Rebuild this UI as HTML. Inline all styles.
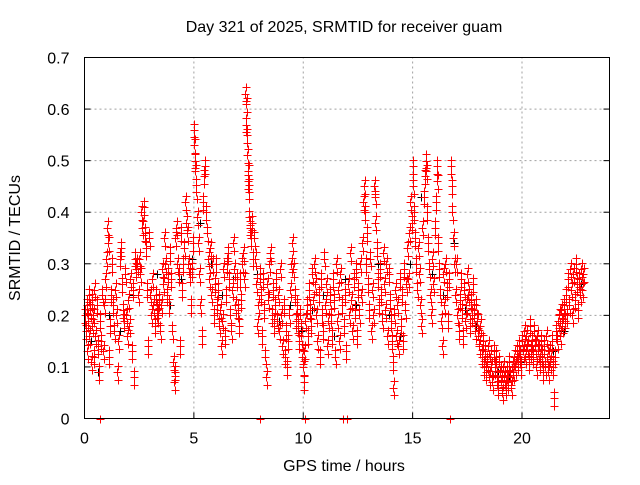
<!DOCTYPE html>
<html><head><meta charset="utf-8"><style>
body{margin:0;background:#fff;}
svg text{font-family:"Liberation Sans",sans-serif;font-size:16px;fill:#000;}
</style></head><body>
<svg id="chart" width="640" height="480" viewBox="0 0 640 480" xmlns="http://www.w3.org/2000/svg">
<rect width="640" height="480" fill="#fff"/>
<text x="344" y="32" text-anchor="middle">Day 321 of 2025, SRMTID for receiver guam</text>
<g id="grid"></g>
<g id="ticks"></g>
<g id="black"></g>
<g id="red"></g>
<rect x="84.5" y="57.5" width="525" height="361" fill="none" stroke="#000" stroke-width="1"/>
<text transform="translate(20,238) rotate(-90)" text-anchor="middle">SRMTID / TECUs</text>
<text x="344" y="471" text-anchor="middle">GPS time / hours</text>
</svg>
<script>
const xTicks=[0,5,10,15,20];
const yTicks=[0,0.1,0.2,0.3,0.4,0.5,0.6,0.7];
const yTickLabels=["0","0.1","0.2","0.3","0.4","0.5","0.6","0.7"];
const redA=[[0.02,0.2],[0.05,0.17],[0.1,0.22],[0.12,0.13],[0.15,0.19],[0.2,0.24],[0.22,0.16],[0.25,0.21],[0.3,0.11],[0.32,0.23],[0.35,0.18],[0.4,0.2],[0.42,0.12],[0.45,0.25],[0.5,0.16],[0.55,0.22],[0.6,0.14],[0.65,0.09],[0.7,0.19],[0.75,0.15],[0.8,0.24],[0.85,0.13],[0.9,0.22],[0.95,0.27],[1.0,0.31],[1.05,0.37],[1.08,0.34],[1.1,0.12],[1.15,0.18],[1.2,0.24],[1.25,0.3],[1.3,0.22],[1.35,0.17],[1.4,0.25],[1.45,0.2],[1.5,0.09],[1.55,0.15],[1.6,0.31],[1.65,0.33],[1.7,0.26],[1.75,0.21],[1.8,0.19],[1.85,0.28],[1.9,0.2],[1.95,0.16],[2.0,0.23],[2.05,0.18],[2.1,0.27],[2.15,0.13],[2.2,0.25],[2.25,0.08],[2.3,0.31],[2.35,0.29],[2.4,0.3],[2.45,0.24],[2.5,0.31],[2.55,0.28],[2.6,0.4],[2.65,0.37],[2.7,0.41],[2.75,0.36],[2.8,0.33],[2.85,0.25],[2.9,0.14],[2.95,0.35],[3.0,0.24],[3.05,0.2],[3.1,0.27],[3.15,0.22],[3.2,0.18],[3.25,0.24],[3.3,0.21],[3.35,0.2],[3.4,0.23],[3.45,0.17],[3.5,0.22],[3.55,0.29],[3.6,0.26],[3.65,0.35],[3.7,0.3],[3.75,0.24],[3.8,0.28],[3.85,0.22],[3.9,0.32],[3.95,0.27],[4.0,0.17],[4.05,0.11],[4.1,0.07],[4.12,0.09],[4.15,0.35],[4.2,0.37],[4.25,0.3],[4.3,0.28],[4.35,0.14],[4.4,0.36],[4.45,0.25],[4.5,0.3],[4.55,0.33],[4.6,0.42],[4.65,0.38],[4.7,0.36],[4.75,0.3],[4.8,0.28],[4.85,0.22],[4.9,0.29],[4.95,0.34],[5.0,0.56],[5.02,0.53],[5.04,0.5],[5.06,0.48],[5.1,0.44],[5.15,0.39],[5.2,0.34],[5.25,0.28],[5.3,0.22],[5.35,0.16],[5.4,0.42],[5.45,0.47],[5.5,0.49],[5.55,0.4],[5.6,0.36],[5.65,0.31],[5.7,0.27],[5.75,0.33],[5.8,0.24],[5.85,0.3],[5.9,0.2],[5.95,0.26],[6.0,0.3],[6.05,0.22],[6.1,0.25],[6.15,0.18],[6.2,0.21],[6.25,0.14],[6.3,0.19],[6.35,0.29],[6.4,0.16],[6.45,0.24],[6.5,0.3],[6.55,0.32],[6.6,0.27],[6.65,0.2],[6.7,0.17],[6.75,0.25],[6.8,0.34],[6.85,0.29],[6.9,0.22],[6.95,0.27],[7.0,0.21],[7.05,0.18],[7.1,0.27],[7.15,0.23],[7.2,0.3],[7.25,0.32],[7.3,0.27],[7.35,0.63],[7.38,0.57],[7.4,0.61],[7.42,0.55],[7.44,0.51],[7.46,0.46],[7.48,0.48],[7.5,0.44],[7.52,0.39],[7.55,0.37],[7.6,0.35],[7.65,0.38],[7.7,0.31],[7.75,0.35],[7.8,0.31],[7.85,0.26],[7.9,0.18],[7.95,0.22],[8.0,0.28],[8.05,0.24],[8.1,0.16],[8.15,0.27],[8.2,0.21],[8.25,0.12],[8.3,0.08],[8.35,0.26],[8.4,0.23],[8.45,0.3],[8.5,0.32],[8.55,0.2],[8.6,0.25],[8.65,0.18],[8.7,0.22],[8.75,0.27],[8.8,0.19],[8.85,0.24],[8.9,0.17],[8.95,0.29],[9.0,0.2],[9.05,0.14],[9.1,0.22],[9.15,0.12],[9.2,0.17],[9.25,0.1],[9.3,0.15],[9.35,0.2],[9.4,0.25],[9.45,0.3],[9.5,0.34],[9.55,0.29],[9.6,0.24],[9.65,0.19],[9.7,0.22],[9.75,0.18],[9.8,0.15],[9.85,0.2],[9.9,0.16],[9.95,0.12],[10.0,0.1],[10.03,0.07],[10.05,0.13],[10.1,0.19],[10.15,0.22],[10.2,0.16],[10.25,0.25],[10.3,0.21],[10.35,0.18],[10.4,0.28],[10.45,0.23],[10.5,0.3],[10.55,0.26],[10.6,0.2],[10.65,0.15],[10.7,0.24],[10.75,0.12],[10.8,0.27],[10.85,0.2],[10.9,0.17],[10.95,0.31],[11.0,0.22],[11.05,0.26],[11.1,0.14],[11.15,0.19],[11.2,0.24],[11.25,0.2],[11.3,0.16],[11.35,0.27],[11.4,0.23],[11.45,0.12],[11.5,0.3],[11.55,0.19],[11.6,0.25],[11.65,0.15],[11.7,0.28],[11.75,0.22],[11.85,0.18],[11.9,0.24],[11.95,0.13],[12.05,0.26],[12.1,0.2],[12.15,0.32],[12.2,0.23],[12.25,0.17],[12.3,0.27],[12.35,0.21],[12.4,0.29],[12.45,0.16],[12.5,0.25],[12.55,0.2],[12.6,0.3],[12.65,0.24],[12.7,0.34],[12.75,0.42],[12.78,0.45],[12.8,0.4],[12.85,0.3],[12.9,0.36],[12.95,0.26],[13.0,0.21],[13.05,0.31],[13.1,0.17],[13.15,0.25],[13.2,0.2],[13.25,0.45],[13.28,0.43],[13.3,0.38],[13.35,0.33],[13.4,0.27],[13.45,0.22],[13.5,0.29],[13.55,0.24],[13.6,0.19],[13.65,0.32],[13.7,0.26],[13.75,0.21],[13.8,0.3],[13.85,0.16],[13.9,0.28],[13.95,0.23],[14.0,0.19],[14.05,0.15],[14.1,0.11],[14.12,0.06],[14.15,0.2],[14.2,0.25],[14.25,0.16],[14.3,0.22],[14.35,0.14],[14.4,0.27],[14.45,0.18],[14.5,0.24],[14.55,0.15],[14.6,0.29],[14.65,0.21],[14.7,0.26],[14.75,0.33],[14.8,0.27],[14.85,0.36],[14.9,0.42],[14.95,0.38],[15.0,0.49],[15.02,0.45],[15.05,0.4],[15.1,0.35],[15.15,0.3],[15.2,0.25],[15.25,0.33],[15.3,0.28],[15.35,0.22],[15.4,0.18],[15.45,0.37],[15.5,0.43],[15.55,0.47],[15.6,0.5],[15.62,0.48],[15.65,0.4],[15.7,0.34],[15.75,0.29],[15.8,0.24],[15.85,0.2],[15.9,0.31],[15.95,0.26],[16.0,0.37],[16.05,0.42],[16.1,0.49],[16.12,0.46],[16.15,0.34],[16.2,0.29],[16.25,0.24],[16.3,0.19],[16.35,0.14],[16.4,0.28],[16.45,0.22],[16.5,0.3],[16.55,0.25],[16.6,0.19],[16.65,0.27],[16.75,0.49],[16.78,0.45],[16.8,0.4],[16.85,0.35],[16.9,0.3],[16.95,0.24],[17.0,0.3],[17.05,0.2],[17.1,0.17],[17.15,0.23],[17.2,0.27],[17.25,0.21],[17.3,0.16],[17.35,0.25],[17.4,0.19],[17.45,0.22],[17.5,0.28],[17.55,0.24],[17.6,0.18],[17.65,0.23],[17.7,0.2],[17.75,0.26],[17.8,0.21],[17.85,0.17],[17.9,0.22],[17.95,0.19],[18.0,0.16],[18.05,0.14],[18.1,0.18],[18.15,0.12],[18.2,0.15],[18.25,0.1],[18.3,0.13],[18.35,0.09],[18.4,0.11],[18.45,0.14],[18.5,0.08],[18.55,0.12],[18.6,0.1],[18.65,0.07],[18.7,0.13],[18.75,0.1],[18.8,0.12],[18.85,0.08],[18.9,0.06],[18.95,0.11],[19.0,0.09],[19.05,0.07],[19.1,0.05],[19.15,0.1],[19.2,0.08],[19.25,0.06],[19.3,0.09],[19.35,0.07],[19.4,0.11],[19.45,0.08],[19.5,0.06],[19.55,0.1],[19.6,0.09],[19.65,0.12],[19.7,0.1],[19.75,0.13],[19.8,0.11],[19.85,0.14],[19.9,0.12],[19.95,0.1],[20.0,0.15],[20.05,0.13],[20.1,0.17],[20.15,0.12],[20.2,0.16],[20.25,0.14],[20.3,0.11],[20.35,0.18],[20.4,0.13],[20.45,0.15],[20.5,0.12],[20.55,0.17],[20.6,0.14],[20.65,0.1],[20.7,0.16],[20.75,0.13],[20.8,0.11],[20.85,0.15],[20.9,0.12],[20.95,0.09],[21.0,0.14],[21.05,0.1],[21.1,0.16],[21.15,0.12],[21.2,0.09],[21.25,0.13],[21.3,0.11],[21.35,0.15],[21.4,0.1],[21.45,0.04],[21.5,0.12],[21.55,0.17],[21.6,0.15],[21.65,0.19],[21.7,0.2],[21.75,0.16],[21.8,0.21],[21.85,0.18],[21.9,0.22],[21.95,0.19],[22.0,0.24],[22.05,0.2],[22.1,0.27],[22.15,0.22],[22.2,0.29],[22.25,0.25],[22.3,0.2],[22.35,0.28],[22.4,0.23],[22.45,0.3],[22.5,0.26],[22.55,0.21],[22.6,0.27],[22.65,0.24],[22.7,0.29],[22.75,0.25],[22.8,0.28]];
const redZeroT=[0.7,8.0,10.1,11.8,12.0,16.7];
const blackA=[[0.3,0.15],[0.6,0.09],[1.1,0.2],[1.6,0.17],[2.2,0.24],[2.8,0.33],[3.3,0.28],[3.9,0.22],[4.4,0.27],[4.9,0.31],[5.3,0.38],[5.8,0.3],[6.3,0.24],[6.8,0.27],[7.4,0.61],[7.9,0.28],[8.4,0.23],[8.9,0.19],[9.4,0.22],[9.9,0.17],[10.4,0.21],[10.9,0.24],[11.4,0.16],[11.9,0.27],[12.4,0.22],[12.9,0.36],[13.4,0.3],[13.9,0.2],[14.4,0.16],[14.9,0.3],[15.4,0.43],[15.9,0.28],[16.4,0.24],[16.9,0.34],[17.4,0.21],[17.9,0.18],[18.4,0.12],[18.9,0.09],[19.4,0.08],[19.9,0.11],[20.4,0.14],[20.9,0.12],[21.4,0.13],[21.9,0.17],[22.4,0.23],[22.7,0.26]];
const X0=84.5,X1=609.5,Y0=418.5,Y1=57.5,XMAX=24,YMAX=0.7;
function sx(t){return X0+(t/XMAX)*(X1-X0);}
function sy(v){return Y0-(v/YMAX)*(Y0-Y1);}
const NS="http://www.w3.org/2000/svg";
function mk(tag,attrs,parent){const e=document.createElementNS(NS,tag);for(const k in attrs)e.setAttribute(k,attrs[k]);parent.appendChild(e);return e;}
const grid=document.getElementById('grid'),ticks=document.getElementById('ticks');
yTicks.forEach((v,i)=>{
  if(v>0&&v<YMAX){const l=mk('line',{x1:X0,x2:X1,y1:sy(v),y2:sy(v),stroke:'#a0a0a0','stroke-dasharray':'2,3'},grid);
  
  }
  const t=mk('text',{x:X0-15,y:sy(v)+6,'text-anchor':'end'},ticks);t.textContent=yTickLabels[i];
  
  
  mk('line',{x1:X0,x2:X0+6,y1:sy(v),y2:sy(v),stroke:'#000'},ticks);
  mk('line',{x1:X1,x2:X1-6,y1:sy(v),y2:sy(v),stroke:'#000'},ticks);
});
xTicks.forEach(v=>{
  if(v>0){const l=mk('line',{x1:sx(v),x2:sx(v),y1:Y0,y2:Y1,stroke:'#a0a0a0','stroke-dasharray':'2,3'},grid);
  
  }
  const t=mk('text',{x:sx(v),y:Y0+25,'text-anchor':'middle'},ticks);t.textContent=String(v);
  
  
  mk('line',{x1:sx(v),x2:sx(v),y1:Y0,y2:Y0-6,stroke:'#000'},ticks);
});
function plus(g,t,v,col){
  const x=Math.round(sx(t))+0.5,y=Math.round(sy(v))+0.5;
  return mk('path',{d:`M${x-4},${y}H${x+4}M${x},${y-4}V${y+4}`,stroke:col,'stroke-width':1,fill:'none'},g);
}
const bg=document.getElementById('black');
blackA.forEach(p=>{const m=plus(bg,p[0],p[1],'#000');
  
  });
const rg=document.getElementById('red');
redA.forEach(p=>{
  const m=plus(rg,p[0],p[1],'#ff0000');
  
  
  const m2=plus(rg,p[0]+0.02,p[1]+0.012,'#ff0000');
  
  
  const m3=plus(rg,p[0]+0.025,p[1]-0.015,'#ff0000');
  
  
});
redZeroT.forEach(t=>{const m=plus(rg,t,0,'#ff0000');
  
  });
</script>
</body></html>
